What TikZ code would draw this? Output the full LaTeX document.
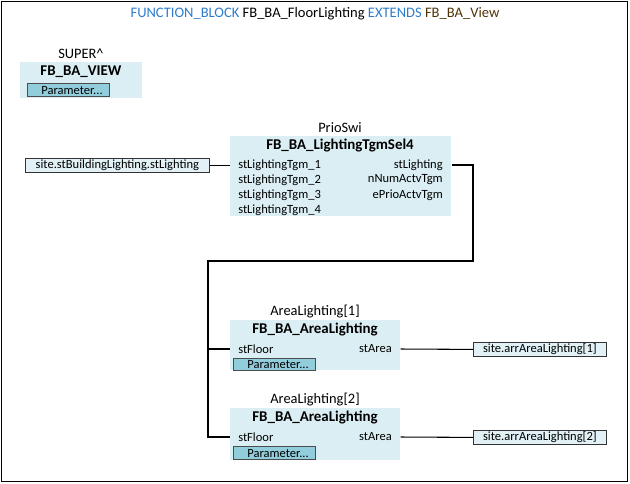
\documentclass[tikz,border=0pt]{standalone}
\usepackage{fontspec}
\setmainfont{Carlito}
\usepackage{xcolor}
\usetikzlibrary{positioning}

\definecolor{fbfill}{HTML}{DAEEF3}
\definecolor{btnfill}{HTML}{92CDDC}
\definecolor{varfill}{HTML}{E1F1F6}
\definecolor{kwblue}{HTML}{2E7CCB}
\definecolor{typebrown}{HTML}{4F3306}

\newcommand{\pxu}{0.75pt}

\tikzset{
  fbbox/.style={fill=fbfill, anchor=north west, inner sep=0pt},
  fbname/.style={font=\fontsize{11.2}{13}\selectfont\bfseries, inner sep=0pt},
  instlbl/.style={font=\fontsize{10.8}{12}\selectfont, inner sep=0pt},
  pin/.style={font=\fontsize{9.4}{11}\selectfont, inner sep=0pt},
  parambtn/.style={draw=black!70, line width=1pt, fill=btnfill, anchor=north west,
    inner sep=0pt, minimum width=82*\pxu, minimum height=13*\pxu,
    font=\fontsize{9.4}{10}\selectfont, text depth=0pt},
  varbox/.style={draw=black!80, line width=0.6pt, fill=varfill, anchor=north west,
    inner sep=0pt, minimum height=14*\pxu, font=\fontsize{9.4}{11}\selectfont},
  wire/.style={line width=1pt},
}

\begin{document}
\begin{tikzpicture}[x=0.75pt, y=-0.75pt]
\useasboundingbox (0,0) rectangle (630,483);
\draw[line width=1.1pt] (1.5,1.5) rectangle (627.5,481.5);

% heading
\node[font=\fontsize{10.9}{13}\selectfont, inner sep=0pt] (title) at (315,14)
  {\textcolor{kwblue}{FUNCTION\_BLOCK} FB\_BA\_FloorLighting \textcolor{kwblue}{EXTENDS} \textcolor{typebrown}{FB\_BA\_View}};

% SUPER^
\node[instlbl] (superlbl) at (81,54) {SUPER\textasciicircum};
\node[fbbox, minimum width=122*\pxu, minimum height=36*\pxu] (superbox) at (20,62) {};
\node[fbname] (supername) at (81,72) {FB\_BA\_VIEW};
\node[parambtn] (superparam) at (27,83) {\hspace*{5pt}Parameter...\hfill};

% PrioSwi
\node[instlbl] (priolbl) at (340,128) {PrioSwi};
\node[fbbox, minimum width=221*\pxu, minimum height=80*\pxu] (priobox) at (230,136) {};
\node[fbname] (prioname) at (340,146) {FB\_BA\_LightingTgmSel4};
\node[pin, anchor=west] (in1) at (238,165) {stLightingTgm\_1};
\node[pin, anchor=west] (in2) at (238,180) {stLightingTgm\_2};
\node[pin, anchor=west] (in3) at (238,195) {stLightingTgm\_3};
\node[pin, anchor=west] (in4) at (238,210) {stLightingTgm\_4};
\node[pin, anchor=east] (out1) at (443,165) {stLighting};
\node[pin, anchor=east] (out2) at (443,180) {nNumActvTgm};
\node[pin, anchor=east] (out3) at (443,195) {ePrioActvTgm};
\node[varbox, minimum width=184*\pxu] (srcvar) at (25,158) {site.stBuildingLighting.stLighting};

% AreaLighting[1]
\node[instlbl] (area1lbl) at (315,312) {AreaLighting[1]};
\node[fbbox, minimum width=170*\pxu, minimum height=50*\pxu] (area1box) at (230,320) {};
\node[fbname] (area1name) at (315,330) {FB\_BA\_AreaLighting};
\node[pin, anchor=west] (floor1) at (238,349) {stFloor};
\node[pin, anchor=east] (area1out) at (392,349) {stArea};
\node[parambtn, minimum height=12*\pxu] (area1param) at (233,358) {\hspace*{5pt}Parameter...\hfill};
\node[varbox, minimum width=133*\pxu] (dst1) at (473,342) {site.arrAreaLighting[1]};

% AreaLighting[2]
\node[instlbl] (area2lbl) at (315,400) {AreaLighting[2]};
\node[fbbox, minimum width=170*\pxu, minimum height=52*\pxu] (area2box) at (230,408) {};
\node[fbname] (area2name) at (315,418) {FB\_BA\_AreaLighting};
\node[pin, anchor=west] (floor2) at (238,437) {stFloor};
\node[pin, anchor=east] (area2out) at (392,437) {stArea};
\node[parambtn] (area2param) at (233,446) {\hspace*{5pt}Parameter...\hfill};
\node[varbox, minimum width=133*\pxu] (dst2) at (473,430) {site.arrAreaLighting[2]};

% wires
\coordinate (bendr) at (473,261);
\coordinate (bendl) at (208,261);
\draw[wire] (srcvar.east) -- (srcvar.east -| priobox.west);
\draw[wire] (priobox.east |- out1) -| (bendr) -- (bendl) |- (area2box.west |- floor2);
\draw[wire] (bendl |- floor1) -- (area1box.west |- floor1);
\draw[line width=0.8pt] (area1box.east |- area1out) -- (dst1.west);
\draw[line width=0.8pt] (area2box.east |- area2out) -- (dst2.west);
\end{tikzpicture}
\end{document}
